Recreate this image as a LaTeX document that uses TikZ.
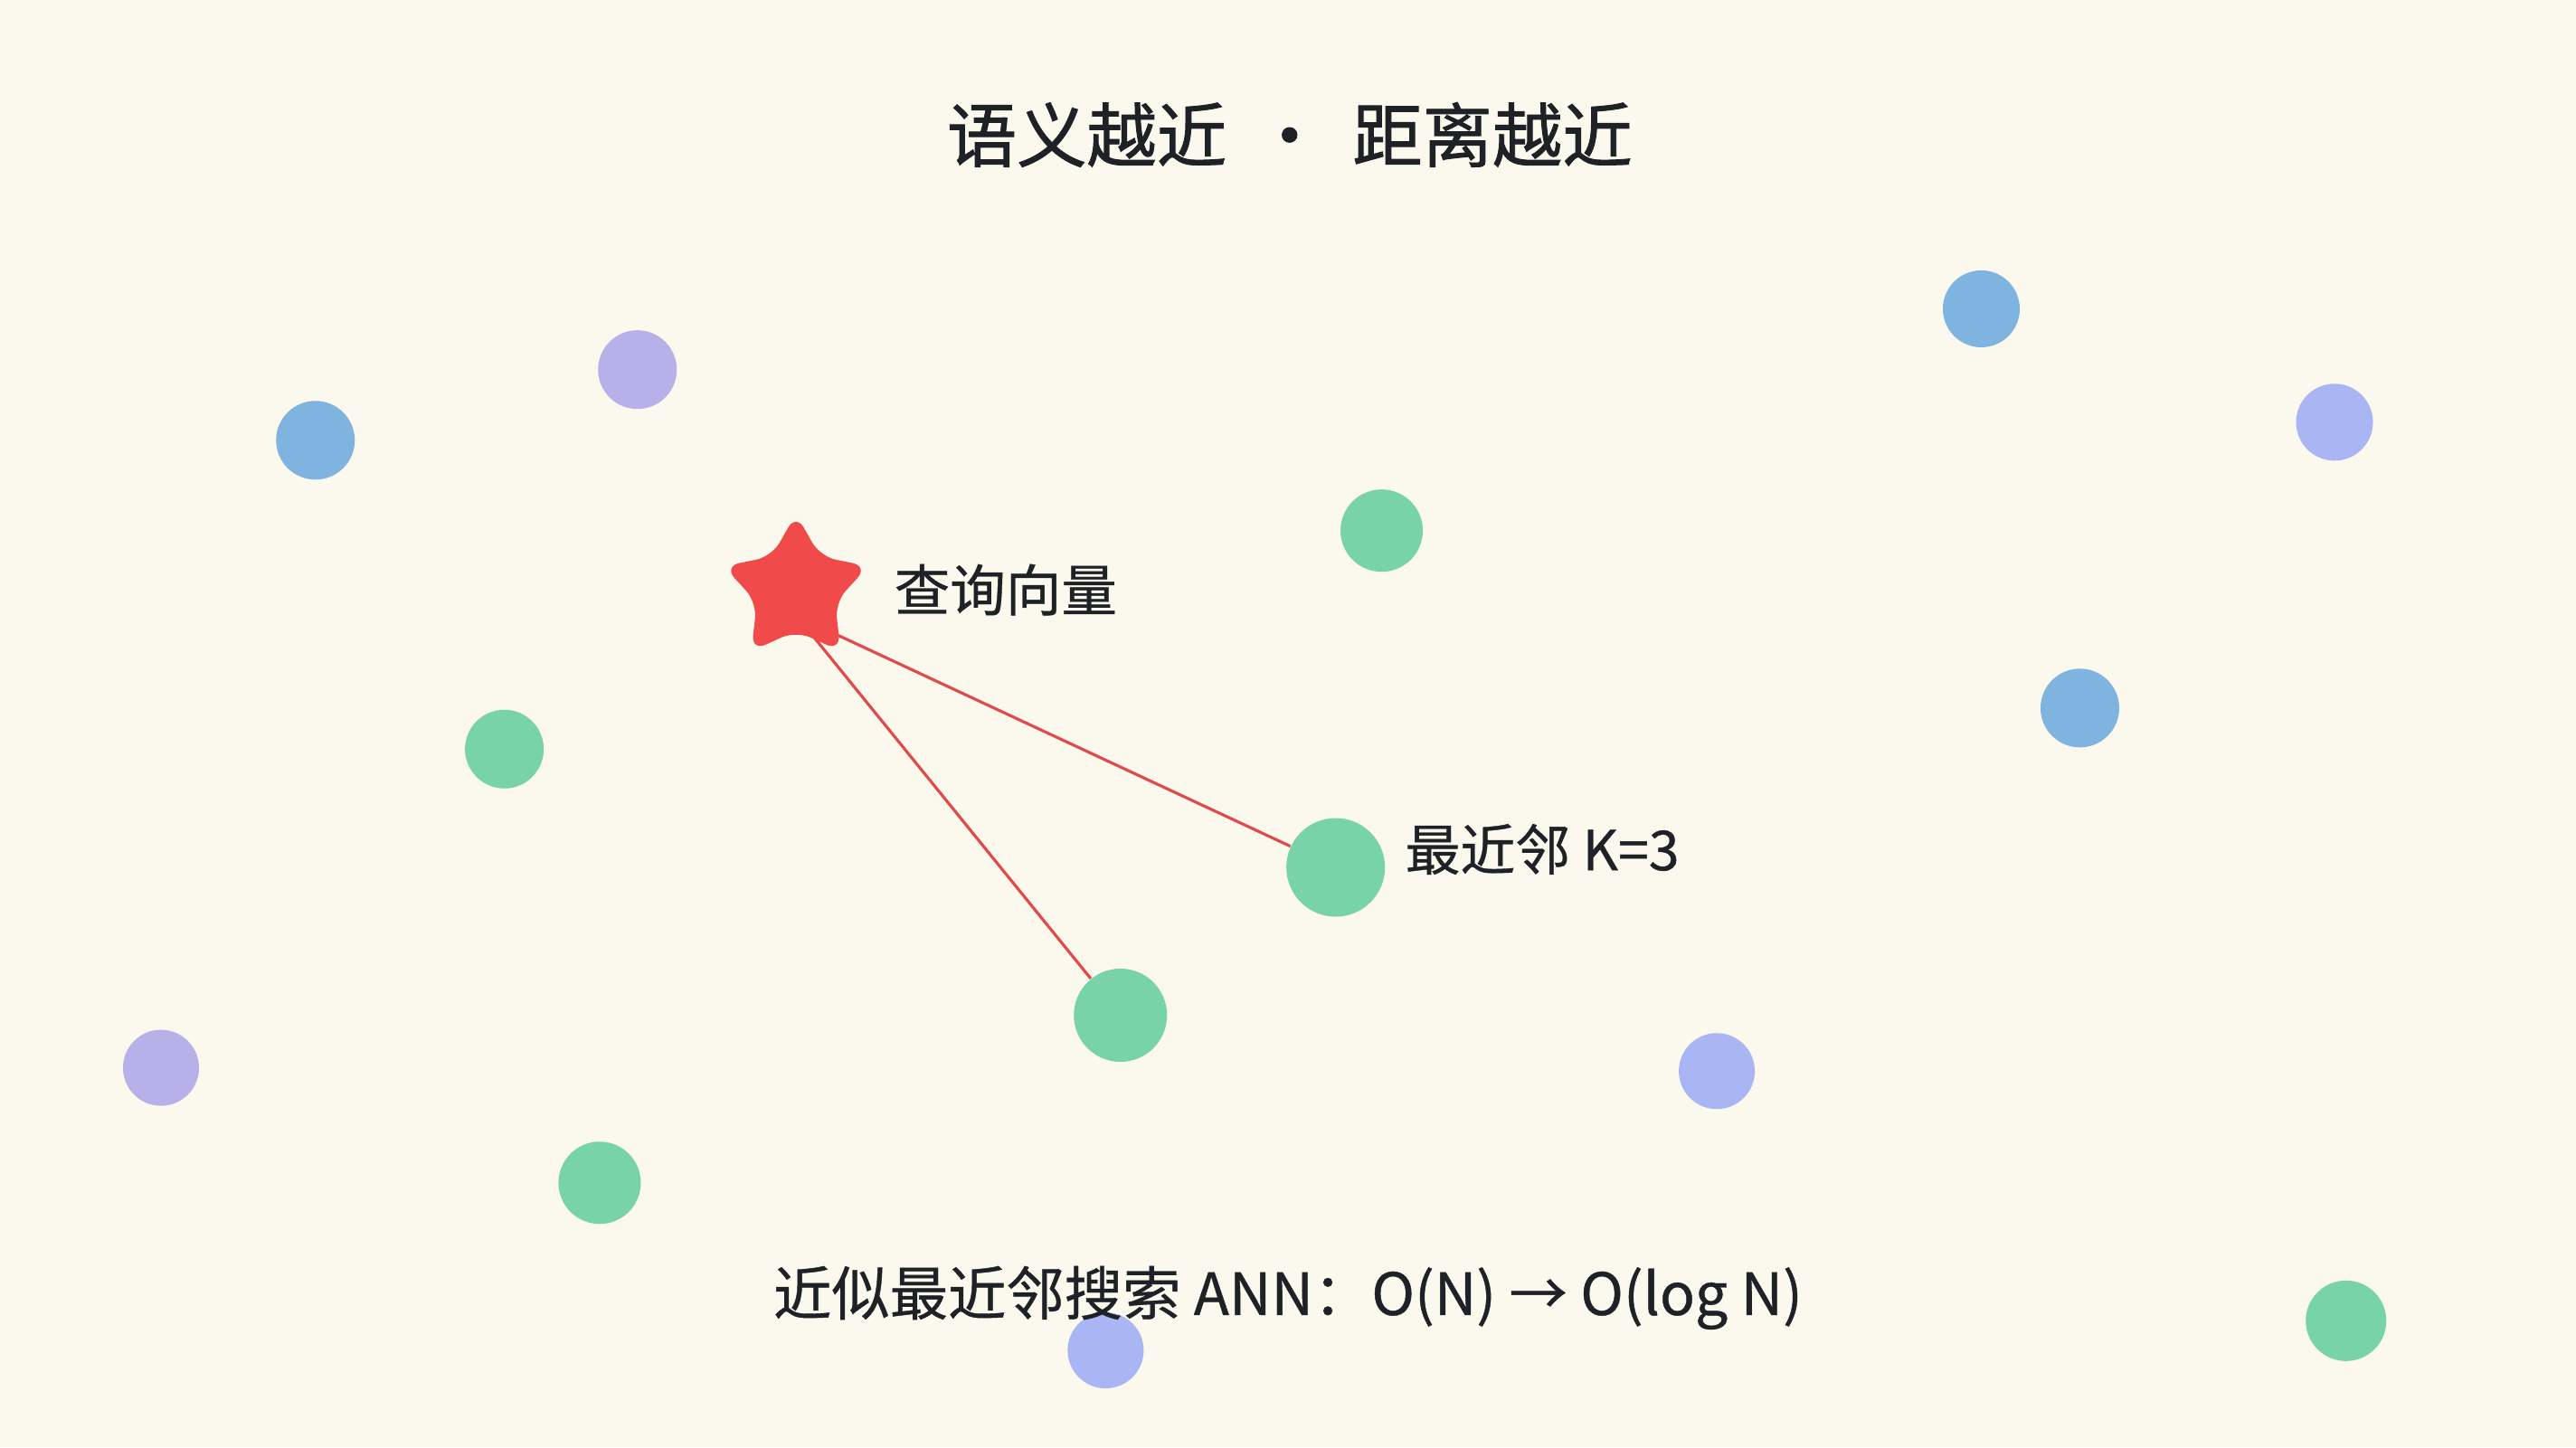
\documentclass[tikz,border=0pt]{standalone}
\usepackage{fontspec}
\setmainfont[FakeBold=0.6]{Noto Sans CJK SC}
\newfontfamily\titlefont[FakeBold=1.2]{Noto Sans CJK SC}
\usetikzlibrary{shapes.geometric}
\pgfdeclarelayer{bg}
\pgfdeclarelayer{lines}
\pgfsetlayers{bg,lines,main}
\definecolor{bgc}{HTML}{FBF8EE}
\definecolor{txt}{HTML}{1E2226}
\definecolor{gcol}{HTML}{78D3A8}
\definecolor{bcol}{HTML}{80B4E0}
\definecolor{lcol}{HTML}{B8B0E8}
\definecolor{pcol}{HTML}{AAB6F3}
\definecolor{starc}{HTML}{F04A4A}
\definecolor{linec}{HTML}{E04A4A}
\tikzset{
  ball/.style={circle, inner sep=0pt, draw=none},
  gball/.style={ball, fill=gcol},
  bball/.style={ball, fill=bcol},
  lball/.style={ball, fill=lcol},
  pball/.style={ball, fill=pcol},
  label text/.style={inner sep=0pt, text=txt},
  link/.style={draw=linec, line width=0.9pt},
}
\begin{document}
\begin{tikzpicture}[x=0.018163cm, y=-0.018163cm]
\begin{pgfonlayer}{bg}
\fill[bgc] (0,0) rectangle (1568,881);
\end{pgfonlayer}
\useasboundingbox (0,0) rectangle (1568,881);

% dots
\node[bball, minimum size=0.87cm] (b1) at (192,268) {};
\node[lball, minimum size=0.87cm] (l1) at (388,225) {};
\node[gball, minimum size=0.91cm] (g1) at (841,323) {};
\node[gball, minimum size=0.87cm] (g2) at (307,456) {};
\node[bball, minimum size=0.85cm] (b2) at (1206,188) {};
\node[pball, minimum size=0.85cm] (p1) at (1421,257) {};
\node[bball, minimum size=0.87cm] (b3) at (1266,431) {};
\node[gball, minimum size=1.09cm] (g3) at (813,528) {};
\node[gball, minimum size=1.03cm] (g4) at (682,618) {};
\node[lball, minimum size=0.84cm] (l2) at (98,650) {};
\node[pball, minimum size=0.84cm] (p2) at (1045,652) {};
\node[gball, minimum size=0.91cm] (g5) at (365,720) {};
\node[pball, minimum size=0.84cm] (p3) at (673,822) {};
\node[gball, minimum size=0.89cm] (g6) at (1428,804) {};

% query star
\node[star, star points=5, star point ratio=1.85, minimum size=1.68cm, inner sep=0pt,
      fill=starc, rounded corners=5pt] (q) at (484.5,359) {};
\coordinate (qa) at (485,375);

\begin{pgfonlayer}{lines}
\draw[link] (qa) -- (g3);
\draw[link] (qa) -- (g4);
\end{pgfonlayer}

% texts
\node[label text, font=\titlefont\fontsize{22pt}{26pt}\selectfont] (title) at (785,82)
  {语义越近\hspace{0.4em}·\hspace{0.4em}距离越近};
\node[label text, anchor=west, font=\fontsize{17.5pt}{21pt}\selectfont] (qlab) at (544,359) {查询向量};
\node[label text, anchor=west, font=\fontsize{17.3pt}{21pt}\selectfont] (klab) at (855,517) {最近邻 K=3};
\node[label text, font=\fontsize{18.3pt}{22pt}\selectfont] (ann) at (784,790)
  {近似最近邻搜索 ANN：O(N) → O(log N)};
\end{tikzpicture}
\end{document}
